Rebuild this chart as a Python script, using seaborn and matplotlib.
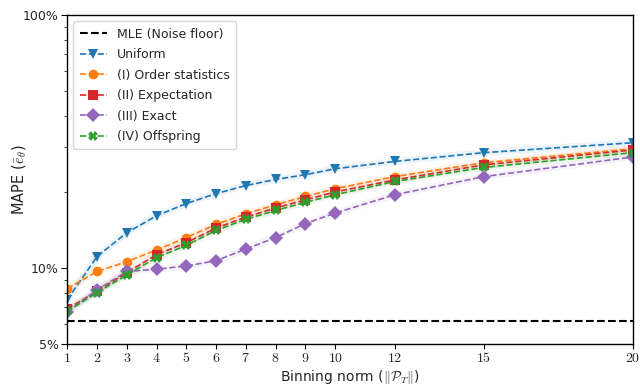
import matplotlib
matplotlib.use("Agg")
import matplotlib.pyplot as plt
import matplotlib.ticker as mticker
import seaborn as sns
import numpy as np
import pandas as pd

# binning norms on the x axis
norms = [1, 2, 3, 4, 5, 6, 7, 8, 9, 10, 12, 15, 20]

# MAPE values in percent
noise_floor = 6.2
uniform = [7.5, 11.1, 13.8, 16.1, 18.0, 19.7, 21.2, 22.4, 23.4, 24.7, 26.4, 28.6, 31.3]
order_stats = [8.3, 9.7, 10.6, 11.8, 13.2, 14.9, 16.4, 17.8, 19.2, 20.6, 23.0, 26.1, 29.6]
expectation = [6.9, 8.1, 9.6, 11.3, 12.6, 14.4, 15.9, 17.3, 18.6, 20.0, 22.3, 25.6, 29.3]
exact = [6.7, 8.2, 9.7, 9.9, 10.2, 10.7, 11.9, 13.2, 15.0, 16.5, 19.5, 23.0, 27.5]
offspring = [6.75, 8.0, 9.4, 11.0, 12.3, 14.1, 15.6, 16.9, 18.2, 19.5, 22.0, 25.0, 28.6]

series = [
    ("Uniform", uniform, "#1f77b4", "v"),
    ("(I) Order statistics", order_stats, "#ff7f0e", "o"),
    ("(II) Expectation", expectation, "#d62728", "s"),
    ("(III) Exact", exact, "#9467bd", "D"),
    ("(IV) Offspring", offspring, "#2ca02c", "X"),
]

sns.set_style("ticks")
plt.rcParams["font.family"] = ["DejaVu Sans"]
plt.rcParams["mathtext.fontset"] = "cm"

fig = plt.figure(figsize=(6.4, 3.86), dpi=100)
ax = fig.add_axes([0.105, 0.108, 0.884, 0.853])

ax.axhline(noise_floor, color="black", linestyle="--", linewidth=1.5, label="MLE (Noise floor)")

for name, vals, color, marker in series:
    df = pd.DataFrame({"norm": norms, "mape": vals})
    # faint halo behind each line, like the shaded band in the reference
    ax.plot(df["norm"], df["mape"], color=color, alpha=0.08, linewidth=5, solid_capstyle="round")
    sns.lineplot(data=df, x="norm", y="mape", ax=ax, color=color, marker=marker,
                 markersize=7, markeredgewidth=0, linestyle="--", linewidth=1.2, label=name)

ax.set_yscale("log")
ax.set_xlim(1, 20)
ax.set_ylim(5, 100)
ax.set_xticks(norms)
ax.set_xticklabels([f"${n}$" for n in norms])
ax.yaxis.set_major_locator(mticker.FixedLocator([5, 10, 100]))
ax.yaxis.set_major_formatter(mticker.FuncFormatter(lambda v, _: f"{v:g}%"))
ax.yaxis.set_minor_locator(mticker.FixedLocator([6, 7, 8, 9, 20, 30, 40, 50, 60, 70, 80, 90]))
ax.yaxis.set_minor_formatter(mticker.NullFormatter())
ax.tick_params(axis="y", which="major", labelsize=9, direction="out", length=4, color="black", pad=2)
ax.tick_params(axis="x", which="major", labelsize=10, direction="out", length=3.5, color="black", pad=1.5)
ax.tick_params(axis="y", which="minor", length=2.5)
for s in ax.spines.values():
    s.set_color("black")
    s.set_linewidth(1.0)

ax.set_xlabel(r"Binning norm ($\|\mathcal{P}_T\|$)", fontsize=10, va="center")
ax.set_ylabel(r"MAPE ($\bar{e}_\theta$)", fontsize=10.5)
ax.xaxis.set_label_coords(0.5, -0.098)
ax.yaxis.set_label_coords(-0.07, 0.5)

ax.legend(loc="upper left", fontsize=9, frameon=True, fancybox=True, framealpha=0.8,
          handlelength=2.2, borderpad=0.5, labelspacing=0.6)

fig.savefig("out.png", dpi=100)
